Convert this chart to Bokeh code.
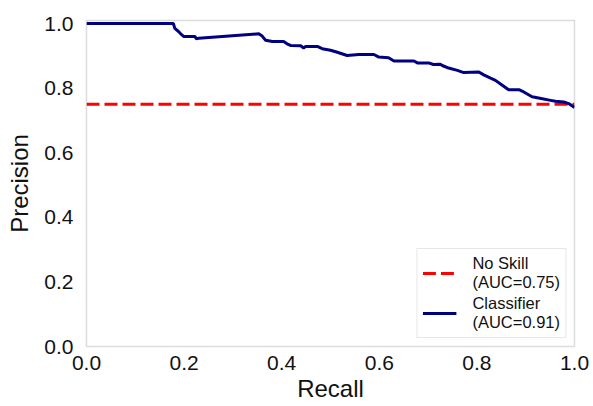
from bokeh.plotting import figure
from bokeh.models import Legend, LegendItem, FixedTicker, PrintfTickFormatter
from bokeh.embed import file_html
from bokeh.resources import INLINE

# Precision-recall curve of the classifier (recall / precision pairs)
recall = [0.0, 0.178, 0.181, 0.188, 0.193, 0.199, 0.222, 0.225, 0.230, 0.353,
          0.360, 0.367, 0.381, 0.404, 0.411, 0.418, 0.439, 0.445, 0.449, 0.473,
          0.483, 0.500, 0.514, 0.534, 0.558, 0.589, 0.599, 0.619, 0.630, 0.671,
          0.678, 0.701, 0.711, 0.725, 0.729, 0.742, 0.760, 0.773, 0.804, 0.814,
          0.828, 0.838, 0.852, 0.865, 0.886, 0.896, 0.913, 0.934, 0.951, 0.961,
          0.978, 0.988, 1.0]
precision = [1.0, 1.0, 0.985, 0.976, 0.968, 0.960, 0.960, 0.953, 0.954, 0.968,
             0.961, 0.948, 0.944, 0.944, 0.937, 0.932, 0.931, 0.924, 0.929, 0.929,
             0.922, 0.917, 0.911, 0.901, 0.904, 0.904, 0.896, 0.894, 0.884, 0.884,
             0.878, 0.878, 0.873, 0.874, 0.870, 0.862, 0.855, 0.848, 0.850, 0.841,
             0.831, 0.824, 0.809, 0.795, 0.795, 0.788, 0.773, 0.767, 0.762, 0.759,
             0.757, 0.752, 0.740]

# No-skill baseline = positive class ratio
no_skill_x = [0.0, 1.0]
no_skill_y = [0.75, 0.75]

auc_no_skill = 0.75
auc_classifier = 0.91

ticks = [0.0, 0.2, 0.4, 0.6, 0.8, 1.0]

p = figure(width=593, height=406, output_backend="svg", toolbar_location=None,
           x_range=(0.0, 1.0), y_range=(0.0, 1.0093),
           min_border_left=86, min_border_right=19, min_border_top=20,
           min_border_bottom=60)

p.background_fill_color = "white"
p.border_fill_color = "white"
p.outline_line_color = "#dcdcdc"
p.outline_line_width = 1.5
p.xgrid.visible = False
p.ygrid.visible = False

for ax in (p.xaxis[0], p.yaxis[0]):
    ax.ticker = FixedTicker(ticks=ticks)
    ax.formatter = PrintfTickFormatter(format="%.1f")
    ax.axis_line_color = None
    ax.major_tick_line_color = None
    ax.minor_tick_line_color = None
    ax.major_tick_in = 0
    ax.major_tick_out = 0
    ax.minor_tick_in = 0
    ax.minor_tick_out = 0
    ax.major_label_text_font = "Liberation Sans"
    ax.major_label_text_font_size = "21px"
    ax.major_label_text_color = "#111111"
    ax.axis_label_text_font = "Liberation Sans"
    ax.axis_label_text_font_size = "24px"
    ax.axis_label_text_font_style = "normal"
    ax.axis_label_text_color = "#111111"

p.xaxis[0].major_label_standoff = 9
p.yaxis[0].major_label_standoff = 13
p.xaxis[0].axis_label = "Recall"
p.yaxis[0].axis_label = "Precision"
p.xaxis[0].axis_label_standoff = 2
p.yaxis[0].axis_label_standoff = 8

baseline = p.line(no_skill_x, no_skill_y, line_color="red", line_width=3,
                  line_dash="13 5")
curve = p.line(recall, precision, line_color="#000080", line_width=3)

legend = Legend(items=[
    LegendItem(label=f"No Skill\n(AUC={auc_no_skill:.2f})", renderers=[baseline]),
    LegendItem(label=f"Classifier\n(AUC={auc_classifier:.2f})", renderers=[curve]),
], location="bottom_right")
legend.label_text_font = "Liberation Sans"
legend.label_text_font_size = "16.5px"
legend.label_text_color = "#111111"
legend.label_text_line_height = 1.05
legend.glyph_width = 34
legend.glyph_height = 20
legend.label_standoff = 16
legend.padding = 5
legend.spacing = 2
legend.margin = 8
legend.border_line_color = "#d0d0d0"
legend.border_line_width = 1
legend.background_fill_alpha = 1.0
p.add_layout(legend)

open("out.html", "w").write(file_html(p, INLINE))
